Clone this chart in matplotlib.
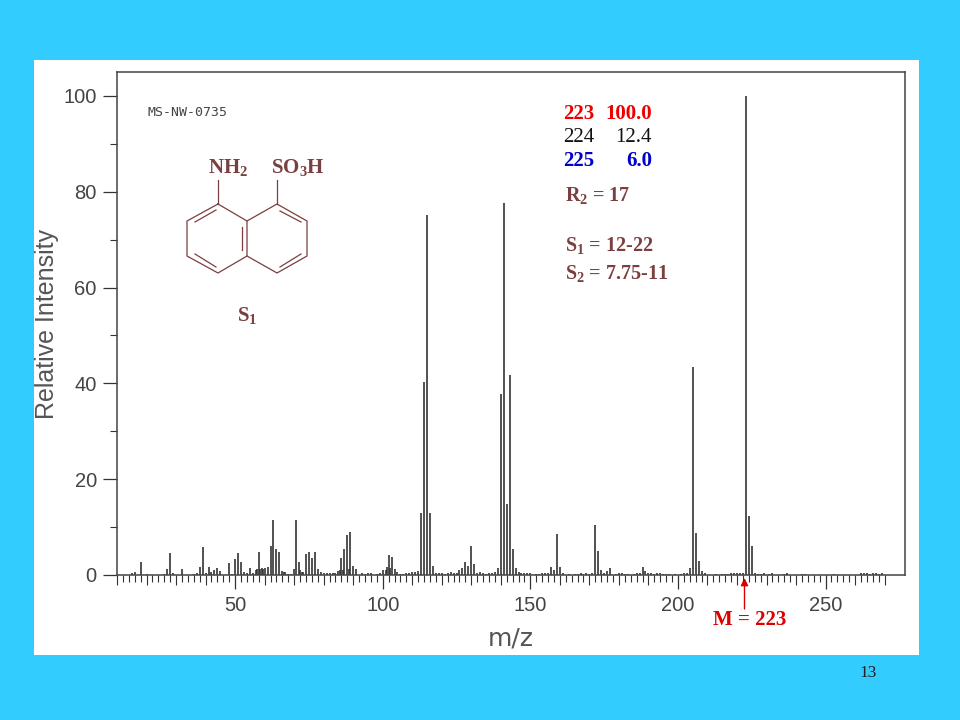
import numpy as np
import matplotlib
matplotlib.use('Agg')
import matplotlib.pyplot as plt

plt.rcParams['mathtext.default'] = 'regular'

# peaks
mz_tall = [18, 28, 39, 51, 50, 48, 52, 58, 63, 62, 64, 65, 70.5, 71.5, 74, 75, 76, 77,
           86, 87, 88, 89, 102, 103, 113, 114, 115, 116, 130, 140, 141, 142, 143, 144,
           159, 172, 173, 205, 206, 207, 223, 224, 225]
int_tall = [2.8, 4.6, 5.8, 4.6, 3.3, 2.5, 2.8, 4.9, 11.5, 6.0, 5.5, 4.9, 11.5, 2.8, 4.4, 4.9, 3.6, 4.7,
            3.6, 5.5, 8.3, 9.0, 4.1, 3.8, 12.9, 40.2, 75.2, 12.9, 6.0, 37.7, 77.7, 14.8, 41.7, 5.5,
            8.5, 10.4, 5.0, 43.4, 8.8, 3.0, 100.0, 12.4, 6.0]
mz_small = [15, 16, 20, 26, 27, 29, 32, 36, 37, 38, 40, 41, 42, 43, 44, 45, 49, 53, 54, 55,
            56, 57, 57.5, 58.5, 59, 59.5, 60, 61, 66, 66.5, 67, 68, 69, 70, 72, 72.5, 73, 78, 79, 80, 81, 82,
            83, 84, 85, 85.5, 86.5, 88.5, 90, 91, 93, 94, 95, 96, 98, 99, 100, 101, 101.5,
            102.5, 104, 105, 106, 107, 108, 109, 110, 111, 112, 117, 118, 119, 120, 121, 122,
            123, 124, 125, 126, 127, 128, 129, 131, 132, 133, 134, 135, 136, 137, 138, 139,
            145, 146, 147, 148, 149, 150, 152, 153, 154, 155, 156, 157, 158, 160, 161, 163,
            165, 166, 167, 168, 169, 170, 171, 174, 175, 176, 177, 179, 180, 181, 182, 183,
            185, 186, 187, 188, 189, 190, 191, 192, 193, 194, 195, 196, 197, 199, 201, 202,
            203, 204, 208, 209, 213, 215, 216, 217, 218, 219, 220, 221, 222, 226, 227, 228,
            229, 231, 232, 236, 237, 242, 243, 253, 262, 263, 264, 265, 266, 267, 268, 269]
int_small = [0.4, 0.6, 0.3, 0.3, 1.2, 0.5, 1.2, 0.3, 0.5, 1.7, 0.5, 1.7, 0.6, 1.1, 1.4, 0.8, 0.3, 0.6, 0.5, 1.4,
             0.4, 1.0, 1.2, 1.3, 1.5, 1.2, 1.5, 1.6, 0.8, 0.7, 0.6, 0.3, 0.3, 1.2, 1.0, 0.7, 0.6, 1.2, 0.6, 0.5, 0.5, 0.4,
             0.5, 0.4, 0.9, 1.0, 1.1, 1.2, 1.9, 1.2, 0.4, 0.3, 0.5, 0.4, 0.3, 0.5, 1.0, 1.0, 1.7,
             1.4, 1.2, 0.6, 0.3, 0.3, 0.4, 0.5, 0.7, 0.6, 0.9, 1.9, 0.5, 0.4, 0.5, 0.3, 0.4,
             0.6, 0.5, 0.5, 1.0, 1.4, 2.7, 1.9, 2.2, 0.5, 0.6, 0.4, 0.3, 0.4, 0.5, 0.6, 1.4,
             1.4, 0.6, 0.5, 0.5, 0.5, 0.4, 0.3, 0.3, 0.4, 0.4, 0.5, 1.6, 1.1, 1.6, 0.5, 0.3,
             0.3, 0.3, 0.4, 0.3, 0.4, 0.3, 0.4, 1.1, 0.5, 0.8, 1.4, 0.3, 0.4, 0.4, 0.3, 0.3,
             0.3, 0.4, 0.5, 1.6, 0.8, 0.4, 0.4, 0.3, 0.4, 0.4, 0.3, 0.3, 0.3, 0.3, 0.3, 0.4,
             0.5, 1.4, 0.8, 0.4, 0.3, 0.3, 0.3, 0.3, 0.4, 0.4, 0.5, 0.5, 0.5, 0.5, 0.3,
             0.3, 0.5, 0.3, 0.4, 0.3, 0.4, 0.3, 0.3, 0.3, 0.4, 0.4, 0.4, 0.3, 0.4, 0.4, 0.3, 0.4]

x_major = [50, 100, 150, 200, 250]
y_major = [0, 20, 40, 60, 80, 100]
ink = '#333333'
brown = '#7b3f3f'

fig = plt.figure(figsize=(9.6, 7.2), dpi=100, facecolor='#33CCFF')

# overlay in pixel coords for the slide panel and the drawn molecule
bg = fig.add_axes([0, 0, 1, 1])
bg.set_xlim(0, 960)
bg.set_ylim(720, 0)
bg.axis('off')
bg.add_patch(plt.Rectangle((34, 60), 885, 595, fc='white', ec='none'))
bg.text(868, 673, '13', family='Liberation Serif', fontsize=12.5, color='#222222', ha='center', va='center')

ax = fig.add_axes([117/960, 1-575/720, (905-117)/960, (575-72)/720])
ax.patch.set_alpha(0)
ax.vlines(mz_small, 0, int_small, color=ink, lw=1.2)
ax.vlines(mz_tall, 0, int_tall, color=ink, lw=1.2)
ax.set_xlim(10.3, 276.9)
ax.set_ylim(0, 105)
ax.set_xticks(x_major)
ax.set_xticks(np.arange(10, 271, 2), minor=True)
ax.set_yticks(y_major)
ax.set_yticks(np.arange(10, 100, 20), minor=True)
for lab in ax.get_xticklabels() + ax.get_yticklabels():
    lab.set_family('Liberation Sans')
ax.tick_params(axis='x', which='major', length=10, width=0.9, color=ink, labelcolor='#444444', labelsize=14.5, pad=5)
ax.tick_params(axis='x', which='minor', length=5, width=0.8, color=ink)
ax.tick_params(axis='y', which='major', length=10, width=0.9, color=ink, labelcolor='#444444', labelsize=14.5, pad=4.5)
ax.tick_params(axis='y', which='minor', length=5, width=0.8, color=ink)
for t, v in zip(ax.xaxis.get_minor_ticks(), ax.xaxis.get_minorticklocs()):
    if v % 10 == 0:
        t.tick1line.set_markersize(7.5)
for s in ax.spines.values():
    s.set_color('#444444')
    s.set_linewidth(1.1)

bg.text(47, 324, 'Relative Intensity', rotation=90, family='Liberation Sans', fontsize=18, color='#555555', ha='center', va='center')
bg.text(511, 638, 'm/z', fontsize=18, color='#555555', ha='center', va='center')
bg.text(147, 113, 'MS-NW-0735', family='DejaVu Sans Mono', fontsize=9.5, color='#444444', va='center')

# molecule
rings = [[(218, 204), (247, 221), (247, 256), (218, 273), (187, 256), (187, 221), (218, 204)],
         [(247, 221), (277, 204), (307, 221), (307, 256), (277, 273), (247, 256)]]
inner = [((195, 222), (216, 210)), ((195, 254), (216, 267)), ((242, 227), (242, 250)),
         ((280, 211), (301, 222)), ((280, 267), (301, 254))]
stems = [((218, 204), (218, 180)), ((277, 204), (277, 180))]
for r in rings:
    bg.plot(*zip(*r), color=brown, lw=0.9)
for a, b in inner + stems:
    bg.plot(*zip(a, b), color=brown, lw=0.9)

serif = dict(family='Liberation Serif', fontweight='bold', va='center')
bg.text(228, 168, 'NH$_2$', color=brown, fontsize=15, ha='center', **serif)
bg.text(298, 168, 'SO$_3$H', color=brown, fontsize=15, ha='center', **serif)
bg.text(247, 316, 'S$_1$', color=brown, fontsize=15, ha='center', **serif)

bg.text(563, 114, '223', color='#EE0000', fontsize=15, **serif)
bg.text(652, 114, '100.0', color='#EE0000', fontsize=15, ha='right', **serif)
bg.text(563, 137, '224', color='#111111', fontsize=15, family='Liberation Serif', va='center')
bg.text(652, 137, '12.4', color='#111111', fontsize=15, family='Liberation Serif', va='center', ha='right')
bg.text(563, 161, '225', color='#0000CC', fontsize=15, **serif)
bg.text(652, 161, '6.0', color='#0000CC', fontsize=15, ha='right', **serif)
bg.text(565, 195, 'R$_2$ = 17', color=brown, fontsize=14.5, **serif)
bg.text(565, 246, 'S$_1$ = 12-22', color=brown, fontsize=14.5, **serif)
bg.text(565, 273, 'S$_2$ = 7.75-11', color=brown, fontsize=14.5, **serif)

bg.text(750, 620, 'M = 223', color='#DD0000', fontsize=15, ha='center', **serif)
bg.annotate('', xy=(744.5, 578), xytext=(744.5, 609),
            arrowprops=dict(arrowstyle='-|>', color='#DD0000', lw=1, mutation_scale=11, shrinkA=0, shrinkB=0))

plt.savefig('out.png', dpi=100, facecolor=fig.get_facecolor())
